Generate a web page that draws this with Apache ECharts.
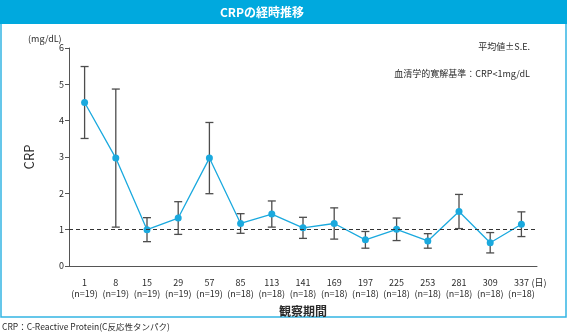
<!DOCTYPE html>
<html>
<head>
<meta charset="utf-8">
<script src="https://cdn.jsdelivr.net/npm/echarts@6/dist/echarts.min.js"></script>
<style>
html,body{margin:0;padding:0;background:#fff;}
#chart{width:570px;height:333px;}
</style>
</head>
<body>
<div id="chart"></div>
<script>
// Observation days and number of patients at each visit
const days = ['1','8','15','29','57','85','113','141','169','197','225','253','281','309','337'];
const counts = [19,19,19,19,19,18,18,18,18,18,18,18,18,18,18];
// Mean CRP (mg/dL) and standard error at each visit
const meanCRP = [4.5, 2.97, 1.0, 1.32, 2.97, 1.17, 1.43, 1.05, 1.17, 0.72, 1.01, 0.69, 1.5, 0.64, 1.15];
const seCRP   = [0.99, 1.9, 0.33, 0.45, 0.98, 0.27, 0.36, 0.29, 0.43, 0.23, 0.31, 0.2, 0.47, 0.28, 0.34];
// Remission threshold (mg/dL)
const remission = 1;
const yTicks = [0, 6, 1];

const FONT = '"Noto Sans CJK JP", "Noto Sans", sans-serif';
const AXIS = '#555555';
const BLUE = '#1aa9de';
const TEXT = '#2b2b2b';

const chart = echarts.init(document.getElementById('chart'));

const errData = meanCRP.map((m, i) => [i, m - seCRP[i], m + seCRP[i]]);
const catLabels = days.map((d, i) => d + '\n(n=' + counts[i] + ')');

chart.setOption({
  animation: false,
  textStyle: { fontFamily: FONT },
  grid: { left: 69, right: 33, top: 48, bottom: 67 },
  xAxis: {
    type: 'category',
    data: catLabels,
    boundaryGap: true,
    axisLine: { lineStyle: { color: AXIS, width: 1 } },
    axisTick: { alignWithLabel: true, length: 5, lineStyle: { color: AXIS } },
    axisLabel: { color: TEXT, fontSize: 9, lineHeight: 11, margin: 11, interval: 0 },
    name: '観察期間',
    nameLocation: 'middle',
    nameGap: 39,
    nameTextStyle: { color: TEXT, fontSize: 12, fontWeight: 'bold' }
  },
  yAxis: {
    type: 'value',
    min: yTicks[0], max: yTicks[1], interval: yTicks[2],
    splitLine: { show: false },
    axisLine: { show: true, lineStyle: { color: AXIS, width: 1 } },
    axisTick: { show: true, length: 4, lineStyle: { color: AXIS } },
    axisLabel: { color: TEXT, fontSize: 9, margin: 5 },
    name: 'CRP',
    nameLocation: 'middle',
    nameRotate: 90,
    nameGap: 33,
    nameTextStyle: { color: TEXT, fontSize: 13 }
  },
  series: [
    {
      type: 'custom',
      data: errData,
      z: 2,
      renderItem: function (params, api) {
        const x = api.value(0);
        const lo = api.coord([x, api.value(1)]);
        const hi = api.coord([x, api.value(2)]);
        const cap = 4;
        const st = { stroke: '#4d4d4d', lineWidth: 1.3 };
        return {
          type: 'group',
          children: [
            { type: 'line', shape: { x1: hi[0], y1: hi[1], x2: lo[0], y2: lo[1] }, style: st },
            { type: 'line', shape: { x1: hi[0] - cap, y1: hi[1], x2: hi[0] + cap, y2: hi[1] }, style: st },
            { type: 'line', shape: { x1: lo[0] - cap, y1: lo[1], x2: lo[0] + cap, y2: lo[1] }, style: st }
          ]
        };
      }
    },
    {
      type: 'line',
      data: meanCRP,
      z: 3,
      symbol: 'circle',
      symbolSize: 7,
      lineStyle: { color: BLUE, width: 1.3 },
      itemStyle: { color: BLUE },
      markLine: {
        silent: true,
        symbol: ['none', 'none'],
        label: { show: false },
        lineStyle: { color: '#333', type: [4, 3], width: 1 },
        data: [{ yAxis: remission }]
      }
    }
  ]
});

// Frame, title bar and annotations
const lastX = chart.convertToPixel({ xAxisIndex: 0 }, days.length - 1);
chart.setOption({
  graphic: [
    { type: 'rect', z: -1, shape: { x: 1, y: 1, width: 565, height: 316 },
      style: { fill: '#fff', stroke: '#33b5e3', lineWidth: 1.5 } },
    { type: 'rect', shape: { x: 0, y: 0, width: 567, height: 24 }, style: { fill: '#00a9de' } },
    { type: 'text', x: 262, y: 12, style: { text: 'CRPの経時推移', fill: '#fff', font: 'bold 12px ' + FONT, align: 'center', verticalAlign: 'middle' } },
    { type: 'text', x: 28, y: 39, style: { text: '(mg/dL)', fill: TEXT, font: '9px ' + FONT, verticalAlign: 'middle' } },
    { type: 'text', x: 530, y: 47, style: { text: '平均値±S.E.', fill: TEXT, font: '9px ' + FONT, align: 'right', verticalAlign: 'middle' } },
    { type: 'text', x: 530, y: 74, style: { text: '血清学的寛解基準：CRP<1mg/dL', fill: TEXT, font: '9px ' + FONT, align: 'right', verticalAlign: 'middle' } },
    { type: 'text', x: lastX + 10, y: 283, style: { text: '(日)', fill: TEXT, font: '9px ' + FONT, verticalAlign: 'middle' } },
    { type: 'text', x: 2, y: 327, style: { text: 'CRP：C-Reactive Protein(C反応性タンパク)', fill: TEXT, font: '8.5px ' + FONT, verticalAlign: 'middle' } }
  ]
});
</script>
</body>
</html>
